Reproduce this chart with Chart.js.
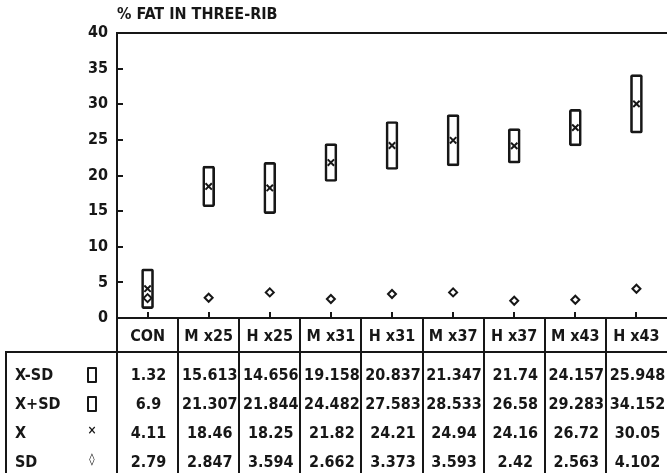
<!DOCTYPE html>
<html>
<head>
<meta charset="utf-8">
<title>% FAT IN THREE-RIB</title>
<script src="https://cdn.jsdelivr.net/npm/chart.js@4.4.1/dist/chart.umd.min.js"></script>
<style>
  html, body { margin: 0; padding: 0; background: #fff; }
  #wrap {
    position: relative; width: 667px; height: 473px; overflow: hidden;
    font-family: "DejaVu Sans Condensed", "DejaVu Sans", sans-serif;
    font-stretch: condensed; font-weight: bold; color: #171717;
  }
  #chart { position: absolute; left: 0; top: 0; }
  #overlay { position: absolute; left: 0; top: 0; width: 667px; height: 473px; }
  .t { position: absolute; white-space: nowrap; font-size: 16px; }
  .c { text-align: center; }
  .sym-box { position: absolute; width: 6px; height: 12px; border: 2px solid #171717; border-radius: 1px; }
</style>
</head>
<body>
<div id="wrap">
  <canvas id="chart" width="667" height="473"></canvas>
  <div id="overlay"></div>
</div>
<script>
// Three-rib fat percentage by treatment group: mean, SD and the X±SD band
const title = '% FAT IN THREE-RIB';
const categories = ['CON', 'M x25', 'H x25', 'M x31', 'H x31', 'M x37', 'H x37', 'M x43', 'H x43'];
const lowerSD = [1.32, 15.613, 14.656, 19.158, 20.837, 21.347, 21.74, 24.157, 25.948];
const upperSD = [6.9, 21.307, 21.844, 24.482, 27.583, 28.533, 26.58, 29.283, 34.152];
const means   = [4.11, 18.46, 18.25, 21.82, 24.21, 24.94, 24.16, 26.72, 30.05];
const sds     = [2.79, 2.847, 3.594, 2.662, 3.373, 3.593, 2.42, 2.563, 4.102];
const yMin = 0, yMax = 40, yStep = 5;
const rowLabels  = ['X-SD', 'X+SD', 'X', 'SD'];
const rowSymbols = ['box', 'box', '×', '◊'];
const rowValues  = [lowerSD, upperSD, means, sds];

// layout
const W = 667, H = 473;
const PLOT_LEFT = 117, PLOT_TOP = 33, PLOT_BOTTOM = 318;
const TABLE_LEFT = 6, HEADER_H = 34, ROW_TOP_PAD = 8, ROW_H = 29;
const TICK = 6;
const INK = '#171717';
const FONT = "'DejaVu Sans Condensed', 'DejaVu Sans', sans-serif";

// frame, inward ticks and table grid lines
const tableFrame = {
  id: 'tableFrame',
  beforeDatasetsDraw(chart) {
    const { ctx, chartArea: a, scales: { x, y } } = chart;
    const n = categories.length;
    const headBottom = a.bottom + HEADER_H;
    const bottom = chart.height + 2;
    ctx.save();
    ctx.strokeStyle = INK;
    ctx.lineWidth = 2;
    ctx.beginPath();
    ctx.moveTo(a.left, a.top); ctx.lineTo(a.right, a.top);
    ctx.moveTo(a.left, a.top - 1); ctx.lineTo(a.left, bottom);
    ctx.moveTo(a.left, a.bottom); ctx.lineTo(a.right, a.bottom);
    ctx.moveTo(TABLE_LEFT - 1, headBottom); ctx.lineTo(a.right, headBottom);
    ctx.moveTo(TABLE_LEFT, headBottom); ctx.lineTo(TABLE_LEFT, bottom);
    for (let i = 1; i < n; i++) {
      const px = Math.round((x.getPixelForValue(i - 1) + x.getPixelForValue(i)) / 2);
      ctx.moveTo(px, a.bottom); ctx.lineTo(px, bottom);
    }
    y.ticks.forEach(t => {
      const py = Math.round(y.getPixelForValue(t.value));
      ctx.moveTo(a.left, py); ctx.lineTo(a.left + TICK, py);
    });
    categories.forEach((c, i) => {
      const px = Math.round(x.getPixelForValue(i));
      ctx.moveTo(px, a.bottom); ctx.lineTo(px, a.bottom - TICK);
    });
    ctx.stroke();
    ctx.restore();
  }
};

const chart = new Chart(document.getElementById('chart'), {
  type: 'bar',
  data: {
    labels: categories,
    datasets: [
      {
        type: 'bar',
        label: 'X±SD',
        data: categories.map((_, i) => [lowerSD[i], upperSD[i]]),
        backgroundColor: 'rgba(255,255,255,0)',
        borderColor: INK,
        borderWidth: 2,
        borderSkipped: false,
        borderRadius: 2,
        barThickness: 12,
        order: 3
      },
      {
        type: 'line',
        label: 'X',
        data: means,
        showLine: false,
        pointStyle: 'crossRot',
        pointRadius: 4.5,
        pointBorderWidth: 2,
        pointBorderColor: INK,
        order: 1
      },
      {
        type: 'line',
        label: 'SD',
        data: sds,
        showLine: false,
        pointStyle: 'rectRot',
        pointRadius: 4,
        pointBorderWidth: 2,
        pointBorderColor: INK,
        pointBackgroundColor: '#fff',
        order: 2
      }
    ]
  },
  options: {
    responsive: false,
    animation: false,
    events: [],
    layout: { autoPadding: false, padding: { left: 0, right: 0, top: PLOT_TOP, bottom: H - PLOT_BOTTOM } },
    plugins: { legend: { display: false }, tooltip: { enabled: false }, title: { display: false } },
    scales: {
      x: {
        type: 'category',
        offset: true,
        grid: { display: false },
        border: { display: false },
        ticks: { display: false },
        afterFit(s) { s.height = 0; }
      },
      y: {
        min: yMin,
        max: yMax,
        ticks: {
          stepSize: yStep,
          color: INK,
          padding: 9,
          font: { family: FONT, weight: 'bold', size: 16 }
        },
        grid: { display: false, drawTicks: false },
        border: { display: false },
        afterFit(s) { s.width = PLOT_LEFT; }
      }
    }
  },
  plugins: [tableFrame]
});

// title and table text
(function buildText() {
  const ov = document.getElementById('overlay');
  const a = chart.chartArea;
  const x = chart.scales.x;
  const colW = x.getPixelForValue(1) - x.getPixelForValue(0);
  const add = (txt, left, top, width, height, cls, extra) => {
    const d = document.createElement('div');
    d.className = 't ' + (cls || '');
    d.textContent = txt;
    d.style.left = left + 'px';
    d.style.top = top + 'px';
    if (width != null) d.style.width = width + 'px';
    d.style.height = height + 'px';
    d.style.lineHeight = height + 'px';
    if (extra) Object.assign(d.style, extra);
    ov.appendChild(d);
    return d;
  };
  add(title, a.left, 5, null, 18, '');
  categories.forEach((c, i) => {
    add(c, x.getPixelForValue(i) - colW / 2, a.bottom + 1, colW, HEADER_H, 'c');
  });
  rowLabels.forEach((lab, r) => {
    const top = a.bottom + HEADER_H + ROW_TOP_PAD + r * ROW_H;
    add(lab, TABLE_LEFT + 9, top, null, ROW_H, '');
    const sym = rowSymbols[r];
    if (sym === 'box') {
      const b = document.createElement('div');
      b.className = 'sym-box';
      b.style.left = (TABLE_LEFT + 81) + 'px';
      b.style.top = (top + 7) + 'px';
      ov.appendChild(b);
    } else {
      add(sym, TABLE_LEFT + 80, top - 2, 12, ROW_H, 'c', { fontSize: '12px' });
    }
    rowValues[r].forEach((v, i) => {
      add(String(v), x.getPixelForValue(i) - colW / 2 + 1, top, colW, ROW_H, 'c');
    });
  });
})();
</script>
</body>
</html>
